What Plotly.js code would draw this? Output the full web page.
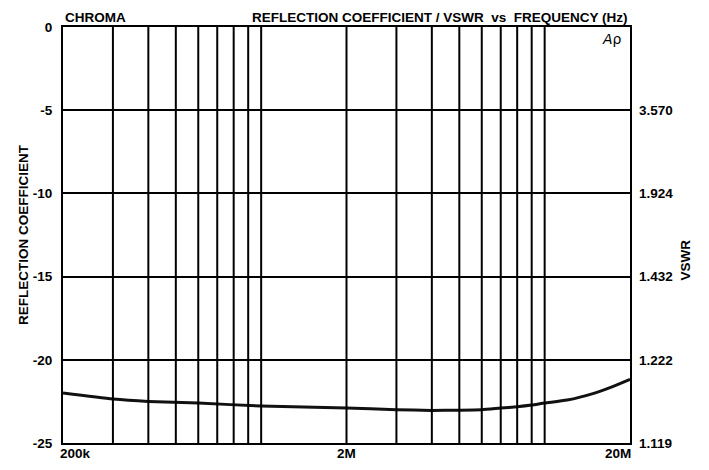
<!DOCTYPE html>
<html><head><meta charset="utf-8">
<script src="https://cdn.plot.ly/plotly-3.0.1.min.js"></script>
<style>body{margin:0;background:#fff}#c{width:709px;height:470px}</style>
</head><body><div id="c"></div>
<script>
const freqHz = [200e3,300e3,400e3,600e3,1e6,2e6,3e6,4e6,5e6,6e6,7e6,8e6,9e6,10e6,12e6,15e6,17e6,20e6];
const reflCoef = [-22.0,-22.36,-22.5,-22.6,-22.78,-22.9,-23.0,-23.04,-23.03,-23.0,-22.9,-22.82,-22.72,-22.6,-22.42,-22.0,-21.67,-21.17];
const gridFreqs = [300e3,400e3,500e3,600e3,700e3,800e3,900e3,1e6,2e6,3e6,4e6,5e6,6e6,7e6,8e6,9e6,10e6];
const xTickVals = [200e3,2e6,20e6];
const xTickText = ['200k','2M','20M'];
const yTickVals = [0,-5,-10,-15,-20,-25];
const yTickText = ['0','-5','-10','-15','-20','-25'];
const vswrVals = [-5,-10,-15,-20,-25];
const vswrText = ['3.570','1.924','1.432','1.222','1.119'];

const FONT = '"Liberation Sans", Arial, sans-serif';
const FS = 13.5;
const shapes = gridFreqs.map(f => ({type:'line', xref:'x', yref:'paper', x0:f, x1:f, y0:0, y1:1, line:{color:'#000', width:2}}));
const anchors = ['left','center','right'];
const annotations = xTickVals.map((v,i) => ({x:Math.log10(v), xref:'x', y:-0.003, yref:'paper', yanchor:'top', xanchor:anchors[i], xshift: i===0?-5:(i===2?3:0), text:'<b>'+xTickText[i]+'</b>', showarrow:false, font:{family:FONT, size:FS, color:'#000'}}));
annotations.push({x:0, xref:'paper', y:1, yref:'paper', yanchor:'bottom', xanchor:'left', yshift:0, text:'<b>CHROMA</b>', showarrow:false, font:{family:FONT, size:FS, color:'#000'}});
annotations.push({x:1, xref:'paper', y:1, yref:'paper', yanchor:'bottom', xanchor:'right', yshift:0, text:'<b>REFLECTION COEFFICIENT / VSWR  vs  FREQUENCY (Hz)</b>', showarrow:false, font:{family:FONT, size:FS, color:'#000'}});
annotations.push({x:0.99, xref:'paper', y:0.995, yref:'paper', yanchor:'top', xanchor:'right', text:'<i>A</i>ρ', showarrow:false, font:{family:'DejaVu Sans', size:14, color:'#000'}});
annotations.push({x:1, xref:'paper', y:0.44, yref:'paper', xanchor:'left', yanchor:'middle', xshift:46, textangle:-90, text:'<b>VSWR</b>', showarrow:false, font:{family:FONT, size:FS, color:'#000'}});

const data = [
  {x:freqHz, y:reflCoef, type:'scatter', mode:'lines', line:{color:'#111', width:3, shape:'spline', smoothing:0.6}, hoverinfo:'skip', showlegend:false},
  {x:freqHz, y:reflCoef, yaxis:'y2', type:'scatter', mode:'lines', line:{width:0}, opacity:0, hoverinfo:'skip', showlegend:false}
];
const layout = {
  width:709, height:470,
  margin:{l:63, r:79, t:27, b:27},
  paper_bgcolor:'#fff', plot_bgcolor:'#fff',
  font:{family:FONT, color:'#000', size:FS},
  xaxis:{type:'log', range:[Math.log10(200e3), Math.log10(20e6)], showgrid:false, showticklabels:false, ticks:'', showline:true, linecolor:'#000', linewidth:2, mirror:true, zeroline:false, fixedrange:true},
  yaxis:{range:[-25,0], tickvals:yTickVals, ticktext:yTickText.map(t=>'<b>'+t+'</b>'), ticks:'', showgrid:true, gridcolor:'#000', gridwidth:2, showline:true, linecolor:'#000', linewidth:2, mirror:true, zeroline:false, ticklabelstandoff:6,
    title:{text:'<b>REFLECTION COEFFICIENT</b>', font:{family:FONT, size:FS, color:'#000'}, standoff:1}},
  yaxis2:{overlaying:'y', side:'right', range:[-25,0], tickvals:vswrVals, ticktext:vswrText.map(t=>'<b>'+t+'</b>'), ticks:'', showgrid:false, zeroline:false, showline:false, ticklabelstandoff:8},
  shapes:shapes,
  annotations:annotations
};
Plotly.newPlot('c', data, layout, {staticPlot:true, displayModeBar:false});
</script></body></html>
